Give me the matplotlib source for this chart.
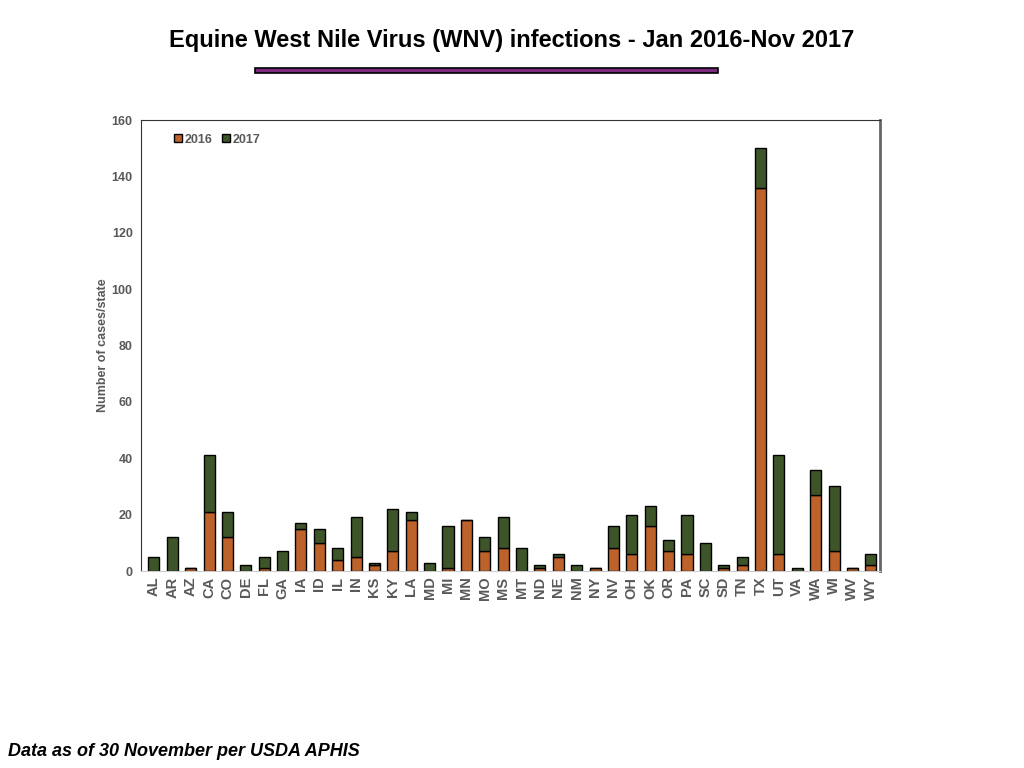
import numpy as np
import matplotlib.pyplot as plt
from matplotlib.patches import Rectangle

plt.rcParams['font.family'] = ['Liberation Sans', 'DejaVu Sans']

states = ['AL', 'AR', 'AZ', 'CA', 'CO', 'DE', 'FL', 'GA', 'IA', 'ID', 'IL', 'IN', 'KS', 'KY',
          'LA', 'MD', 'MI', 'MN', 'MO', 'MS', 'MT', 'ND', 'NE', 'NM', 'NY', 'NV', 'OH', 'OK',
          'OR', 'PA', 'SC', 'SD', 'TN', 'TX', 'UT', 'VA', 'WA', 'WI', 'WV', 'WY']
cases_2016 = [0, 0, 1, 21, 12, 0, 1, 0, 15, 10, 4, 5, 2, 7,
              18, 0, 1, 18, 7, 8, 0, 1, 5, 0, 1, 8, 6, 16,
              7, 6, 0, 1, 2, 136, 6, 0, 27, 7, 1, 2]
cases_2017 = [5, 12, 0, 20, 9, 2, 4, 7, 2, 5, 4, 14, 1, 15,
              3, 3, 15, 0, 5, 11, 8, 1, 1, 2, 0, 8, 14, 7,
              4, 14, 10, 1, 3, 14, 35, 1, 9, 23, 0, 4]
yticks = [0, 20, 40, 60, 80, 100, 120, 140, 160]

orange = '#BD622B'
green = '#3E5529'
grey = '#595959'

fig = plt.figure(figsize=(10.24, 7.68), dpi=100)
ax = fig.add_axes([0.1377, 0.2565, 0.7217, 0.5872])

x = np.arange(len(states))
ax.bar(x, cases_2016, width=0.6, color=orange, edgecolor='black', linewidth=1, label='2016')
ax.bar(x, cases_2017, width=0.6, bottom=cases_2016, color=green, edgecolor='black',
       linewidth=1, label='2017')

ax.set_xlim(-0.7, 39.5)
ax.set_ylim(0, 160)
ax.set_yticks(yticks)
ax.set_xticks(x)
ax.set_xticklabels(states, rotation=90, fontsize=10.5, fontweight='bold', color=grey)
ax.tick_params(axis='y', labelsize=9, labelcolor=grey, length=0, pad=6)
ax.tick_params(axis='x', length=0, pad=4)
for lab in ax.get_yticklabels():
    lab.set_fontweight('bold')
ax.set_ylabel('Number of cases/state', fontsize=9, fontweight='bold', color=grey, labelpad=2)

ax.spines['left'].set_color('#333333')
ax.spines['top'].set_color('#333333')
ax.spines['right'].set_color('#666666')
ax.spines['right'].set_linewidth(2)
ax.spines['bottom'].set_color('#cccccc')

leg = ax.legend(loc='upper left', ncol=2, frameon=False, fontsize=9, handlelength=0.6,
                handleheight=0.6, handletextpad=0.2, columnspacing=0.8,
                bbox_to_anchor=(0.03, 0.995))
for t in leg.get_texts():
    t.set_fontweight('bold')
    t.set_color(grey)

fig.text(0.5, 0.947, 'Equine West Nile Virus (WNV) infections - Jan 2016-Nov 2017',
         ha='center', va='center', fontsize=17, fontweight='bold')
fig.patches.append(Rectangle((255 / 1024, 1 - 73 / 768), 463 / 1024, 5 / 768,
                             transform=fig.transFigure, facecolor='#7B2A7E',
                             edgecolor='black', linewidth=1.2))
fig.text(0.008, 0.021, 'Data as of 30 November per USDA APHIS', ha='left', va='center',
         fontsize=13, fontweight='bold', fontstyle='italic')

fig.savefig('out.png', dpi=100)
